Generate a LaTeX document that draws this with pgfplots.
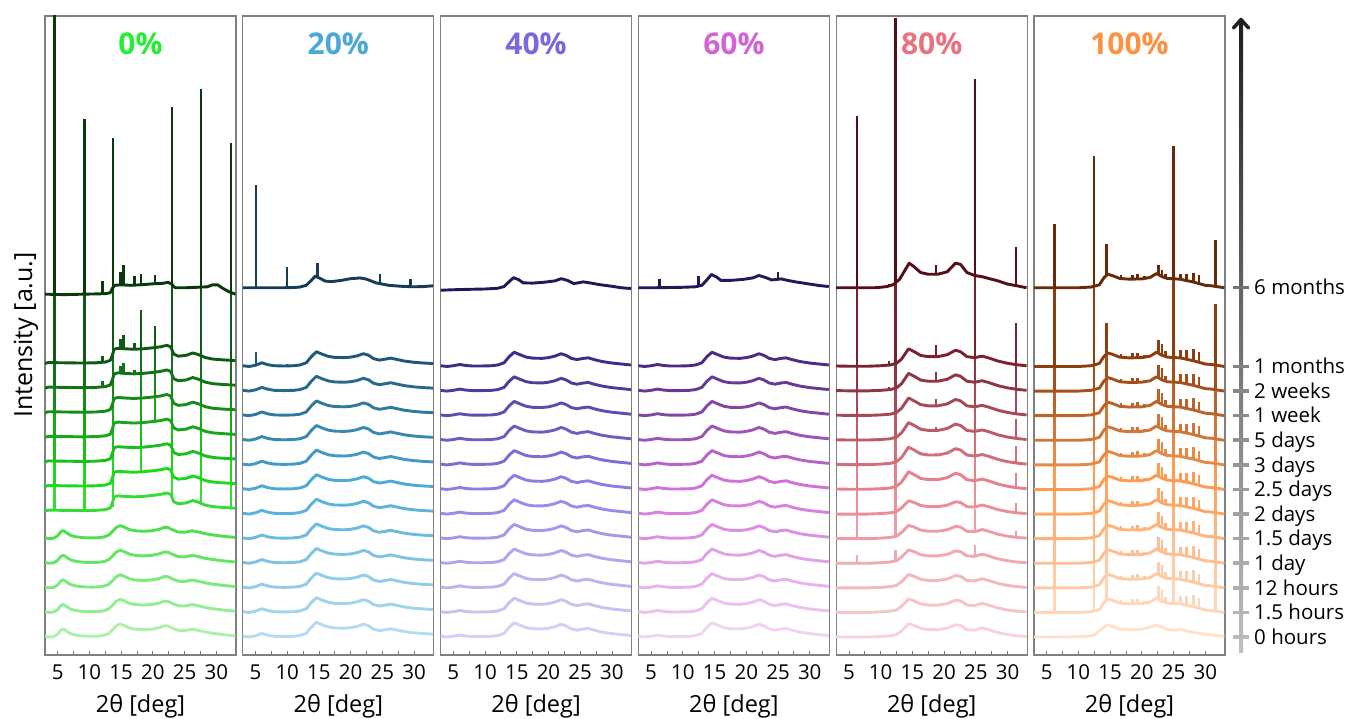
\documentclass[border=0pt]{standalone}
\usepackage{pgfplots}
\pgfplotsset{compat=1.18}
\usepackage{pgfplotstable}
\usepackage{fontspec}
\setmainfont{Open Sans}

\definecolor{L1}{HTML}{AAF2AA}\definecolor{M1}{HTML}{1ED81E}\definecolor{D1}{HTML}{0E5A14}\definecolor{E1}{HTML}{0A3A0C}
\definecolor{L2}{HTML}{B4DCF0}\definecolor{M2}{HTML}{4AAAD8}\definecolor{D2}{HTML}{1E5878}\definecolor{E2}{HTML}{183C56}
\definecolor{L3}{HTML}{D6CEF5}\definecolor{M3}{HTML}{8E7CE6}\definecolor{D3}{HTML}{3E2C8A}\definecolor{E3}{HTML}{261656}
\definecolor{L4}{HTML}{F2D2F4}\definecolor{M4}{HTML}{D070D8}\definecolor{D4}{HTML}{4E2A86}\definecolor{E4}{HTML}{24185A}
\definecolor{L5}{HTML}{F8D2D6}\definecolor{M5}{HTML}{E8808C}\definecolor{D5}{HTML}{7A2232}\definecolor{E5}{HTML}{560E18}
\definecolor{L6}{HTML}{FFE2CE}\definecolor{M6}{HTML}{FF9A50}\definecolor{D6}{HTML}{8E3E0E}\definecolor{E6}{HTML}{6A2A08}
\definecolor{T1}{HTML}{22EE33}\definecolor{T2}{HTML}{4AA8D8}\definecolor{T3}{HTML}{7B68E0}
\definecolor{T4}{HTML}{D462D6}\definecolor{T5}{HTML}{E8727F}\definecolor{T6}{HTML}{FF9040}

\newcommand\grad[1]{%
 \colorlet{P#1-0}{L#1}\colorlet{P#1-1}{M#1!17!L#1}\colorlet{P#1-2}{M#1!33!L#1}%
 \colorlet{P#1-3}{M#1!50!L#1}\colorlet{P#1-4}{M#1!67!L#1}\colorlet{P#1-5}{M#1!83!L#1}%
 \colorlet{P#1-6}{M#1}\colorlet{P#1-7}{D#1!20!M#1}\colorlet{P#1-8}{D#1!40!M#1}%
 \colorlet{P#1-9}{D#1!60!M#1}\colorlet{P#1-10}{D#1!80!M#1}\colorlet{P#1-11}{D#1}%
 \colorlet{P#1-12}{E#1}}
\grad1\grad2\grad3\grad4\grad5\grad6

% ---------- panel 1 (0%) ----------
\pgfplotstableread{
x y
3 0.04
3.6 0.0
4.4 0.02
5.0 0.12
5.5 0.28
5.9 0.33
6.4 0.24
7.0 0.14
7.8 0.08
9 0.04
10.5 0.03
11.5 0.04
12.3 0.07
13.0 0.14
13.6 0.28
14.2 0.45
14.8 0.53
15.5 0.47
16.3 0.37
17.2 0.32
18.5 0.30
19.8 0.32
21 0.38
21.8 0.46
22.4 0.45
23.1 0.36
24 0.27
25 0.26
26.2 0.32
27.2 0.27
28.3 0.20
29.5 0.15
31 0.10
33 0.05
}\pIa
\pgfplotstableread{
x y
3 0.12
3.5 0.16
6 0.15
9 0.14
11 0.15
12.5 0.18
13.3 0.25
13.6 0.45
13.9 0.70
14.5 0.74
15.5 0.72
17 0.70
18.5 0.72
20 0.76
21.2 0.80
22.2 0.86
22.8 0.80
23.3 0.50
24 0.42
25.2 0.45
26.3 0.55
27.2 0.48
28.3 0.36
29.5 0.30
31 0.27
33 0.24
}\pIb
\pgfplotstableread{
x y
3 -0.26
6 -0.28
9 -0.26
11 -0.25
12.5 -0.24
13.3 -0.20
13.6 -0.03
14.0 0.10
15 0.12
16.5 0.10
18 0.12
20 0.16
21.5 0.18
22.4 0.22
23.0 0.14
23.5 0.00
25 0.00
27 0.02
28.6 0.04
29.4 0.12
30.2 0.12
31 -0.02
32 -0.16
33 -0.26
}\pIc
\pgfplotstableread{
x bB bC t5 t6 t7 t8 t9 t10 t11 t12
4.5 0.12 -0.31 7 7 7 7 7 7 7 12
9.2 0.11 -0.29 6 6 6 6 6 6 6 7.15
12.1 0.14 -0.27 0 0 0 0 0 0.25 0.3 0.55
13.7 0.30 -0.10 6 6 6 6 6 6 6 6.2
14.9 0.70 0.08 0 0 0 0 0 0.3 0.4 0.58
15.4 0.69 0.07 0 0 0 0 0 0.45 0.6 0.84
17.1 0.67 0.06 0 0 0 0 0 0.2 0.3 0.4
18.1 0.68 0.08 0 1.5 2.0 2.4 2.4 2.4 1.6 0.48
20.3 0.74 0.12 0 0 0 1.5 1.7 1.9 0.9 0.38
23.0 0.62 0.06 6 6 6 6 6 6 6 7.3
27.6 0.41 -0.02 6 6 6 6 6 6 6 8.1
32.3 0.22 -0.22 6 6 6 6 6 6 6 6.1
}\sI

% ---------- panel 2 (20%) ----------
\pgfplotstableread{
x y
3 0.03
4 0.0
5 0.05
6 0.15
7 0.07
8 0.03
9.5 0.02
11 0.03
12 0.06
13 0.15
13.8 0.40
14.6 0.60
15.5 0.50
16.5 0.41
17.5 0.37
19 0.36
20 0.38
21 0.43
22 0.52
22.8 0.46
23.6 0.32
24.5 0.26
25.5 0.30
26.3 0.34
27.2 0.29
28.5 0.22
30 0.17
31.5 0.14
33 0.12
}\pIIa
\pgfplotstableread{
x y
3 0.0
6 0.0
9 0.0
11 0.01
12 0.03
13 0.10
13.8 0.30
14.4 0.47
15.2 0.38
16 0.27
17 0.25
18.5 0.30
20 0.37
21.5 0.40
22.5 0.35
24 0.20
26 0.10
28 0.06
30 0.04
31.5 0.05
33 0.08
}\pIIc
\pgfplotstableread{
x bA bC t11 t12
5.1 0.04 -0.02 0.55 4.2
10.0 0.0 -0.02 0.12 0.85
14.8 0.53 0.40 0 0.62
24.6 0.24 0.13 0 0.42
29.4 0.16 0.03 0 0.32
}\sII

% ---------- panel 3 (40%) and 4 (60%) ----------
\pgfplotstableread{
x y
3 0.03
4 0.0
5 0.03
6 0.08
7 0.04
8 0.02
9.5 0.02
11 0.03
12 0.06
13 0.15
13.8 0.40
14.6 0.58
15.5 0.48
16.5 0.38
17.5 0.34
19 0.33
20 0.36
21 0.42
22 0.52
22.8 0.45
23.6 0.33
24.5 0.28
25.5 0.33
26.3 0.35
27.2 0.28
28.5 0.20
30 0.14
31.5 0.10
33 0.06
}\pIIIa
\pgfplotstableread{
x y
3 -0.10
5 -0.08
8 -0.06
10 -0.05
12 -0.02
13 0.05
13.8 0.25
14.5 0.41
15.3 0.33
16 0.20
17.5 0.19
19.5 0.23
21 0.28
22 0.37
23 0.30
24 0.17
25.5 0.24
26.5 0.20
28 0.13
30 0.06
31.5 0.0
33 -0.03
}\pIIIc
\pgfplotstableread{
x y
3 0.0
5 0.0
8 0.01
10 0.02
12 0.04
13 0.10
13.8 0.32
14.5 0.54
15.3 0.44
16 0.30
17.5 0.30
19.5 0.34
21 0.40
22 0.50
23 0.42
24 0.32
25.5 0.36
26.5 0.30
28 0.23
30 0.15
31.5 0.09
33 0.05
}\pIVc
\pgfplotstableread{
x bC t12
6.3 -0.02 0.38
12.5 0.02 0.47
25.0 0.32 0.31
}\sIV

% ---------- panel 5 (80%) ----------
\pgfplotstableread{
x y
3 0.0
5 0.0
8 0.0
10 0.02
11.5 0.05
12.5 0.10
13.3 0.25
14.4 0.54
15.3 0.47
16.3 0.35
17.5 0.30
19 0.30
20.5 0.36
21.8 0.50
22.6 0.47
23.6 0.30
24.8 0.28
26 0.37
27 0.30
28.5 0.18
30 0.10
31.5 0.05
33 0.02
}\pVa
\pgfplotstableread{
x y
3 0.02
5 0.01
8 0.01
10 0.03
11.5 0.06
12.5 0.13
13.3 0.30
14.4 0.72
15.3 0.60
16.3 0.45
17.5 0.40
19 0.40
20.5 0.48
21.8 0.66
22.6 0.60
23.6 0.40
24.8 0.36
26 0.42
27 0.35
28.5 0.22
30 0.13
31.5 0.07
33 0.03
}\pVb
\pgfplotstableread{
x y
3 0.0
6 0.0
9 0.0
10 0.02
11 0.05
12 0.13
13 0.35
14.5 1.00
15.3 0.85
16.3 0.62
17.5 0.55
19 0.55
20.5 0.65
21.8 1.00
22.6 0.95
23.6 0.62
24.8 0.50
26 0.45
27 0.38
28.5 0.28
30 0.15
31.5 0.08
33 0.0
}\pVc
\pgfplotstableread{
x bA bB bC t3 t4 t5 t6 t7 t8 t9 t10 t11 t12
6.3 -0.02 -0.01 -0.02 0.37 5 5 5 5 5 5 5 5 7.0
11.3 0.02 0.03 0.05 0 0 0 0 0 0 0 0.15 0.2 0.1
12.35 0.07 0.10 0.18 0.45 6 6 6 6 6 6 6 6 10.8
18.7 0.28 0.38 0.52 0 0 0 0 0.1 0.15 0.3 0.4 0.5 0.4
24.9 0.26 0.34 0.47 0.5 0.95 6 6 6 6 6 6 6 8.0
31.3 0.03 0.06 0.06 0 0.3 0.4 0.6 0.72 0.8 1.0 1.4 1.7 1.6
}\sV

% ---------- panel 6 (100%) ----------
\pgfplotstableread{
x y
3 0.0
8 0.0
11 0.02
12.5 0.08
13.3 0.25
14.5 0.50
15.5 0.42
16.5 0.32
18 0.30
20 0.32
21.5 0.42
22.2 0.48
23 0.42
24 0.30
25 0.28
26.2 0.30
27.5 0.22
29 0.15
31 0.08
33 0.03
}\pVIa
\pgfplotstableread{
x y
3 0.0
8 0.0
10 0.0
12 0.03
13.3 0.12
14.0 0.40
14.6 0.55
15.3 0.50
16.5 0.38
18 0.35
20 0.36
21.3 0.42
22.3 0.58
23.2 0.45
24 0.38
26 0.35
28 0.24
30 0.10
31 0.08
33 0.0
}\pVIb
\pgfplotstableread{
x bB t1 t2 t3 t4 t5 t6 t7 t8 t9 t10 t11 t12
6.2 -0.02 4 4 4 4 4 4 4 4 4 4 4 2.6
12.45 0.02 6 6 6 6 6 6 6 6 6 6 6 5.35
14.4 0.48 1.0 1.0 1.0 1.0 1.0 1.0 1.0 1.0 1.0 1.0 1.3 1.3
16.7 0.35 0.15 0.15 0.15 0.15 0.15 0.15 0.15 0.15 0.15 0.15 0.15 0.15
18.5 0.33 0.2 0.2 0.2 0.2 0.2 0.2 0.2 0.2 0.2 0.2 0.2 0.2
19.3 0.33 0.22 0.22 0.22 0.22 0.22 0.22 0.22 0.22 0.22 0.22 0.22 0.22
20.4 0.35 0.12 0.12 0.12 0.12 0.12 0.12 0.12 0.12 0.12 0.12 0.12 0.12
22.6 0.52 0.55 0.55 0.55 0.55 0.55 0.55 0.55 0.55 0.55 0.55 0.55 0.4
23.2 0.43 0.5 0.5 0.5 0.5 0.5 0.5 0.5 0.5 0.5 0.5 0.5 0.28
23.7 0.38 0.25 0.25 0.25 0.25 0.25 0.25 0.25 0.25 0.25 0.25 0.25 0.2
25.0 0.35 6 6 6 6 6 6 6 6 6 6 6 5.4
26.1 0.33 0.35 0.35 0.35 0.35 0.35 0.35 0.35 0.35 0.35 0.35 0.35 0.25
27.0 0.28 0.4 0.4 0.4 0.4 0.4 0.4 0.4 0.4 0.4 0.4 0.4 0.3
28.1 0.21 0.5 0.5 0.5 0.5 0.5 0.5 0.5 0.5 0.5 0.5 0.5 0.4
29.0 0.15 0.42 0.42 0.42 0.42 0.42 0.42 0.42 0.42 0.42 0.42 0.42 0.35
31.6 0.05 2.5 2.5 2.5 2.5 2.5 2.5 2.5 2.5 2.5 2.5 2.5 1.9
}\sVI

\newcommand\tr[3]{\addplot[color=#1, line width=2.9pt, line join=round, forget plot] table[x=x, y expr=\thisrow{y}+#3]{#2};}
\newcommand\spk[5]{\addplot[draw=none, mark=none, forget plot, error bars/.cd, y dir=plus, y explicit, error mark=none, error bar style={draw=#1, solid, line width=2.5pt}] table[x=x, y expr=\thisrow{#3}+#4, y error=#5]{#2};}
\newcommand\ttl[2]{\node[font=\bfseries\fontsize{30}{30}\selectfont, text=#1, anchor=base, inner sep=0pt] at (rel axis cs:0.5,0.939) {#2};}

\pgfplotsset{panel/.style={
 scale only axis, width=191pt, height=639pt, anchor=south west,
 xmin=3, xmax=33.1, ymin=-0.73, ymax=25.25,
 xtick={5,10,...,30}, minor x tick num=1, ytick=\empty,
 tick pos=left, tick align=inside,
 major tick length=4pt, minor tick length=4pt,
 tick style={black!55, line width=0.8pt},
 axis line style={black!50, line width=1.1pt},
 ticklabel style={font=\fontsize{20.5}{22}\selectfont},
 /pgf/number format/assume math mode=true,
 xticklabel style={anchor=base, yshift=-24.8pt},
 xlabel={2θ [deg]},
 xlabel style={font=\fontsize{23.5}{24}\selectfont, at={(axis description cs:0.5,0)}, anchor=base, yshift=-58pt},
}}

\begin{document}
\begin{tikzpicture}
\path[use as bounding box] (0pt,0pt) rectangle (1349pt,719pt);

% panel 1
\begin{axis}[panel, at={(45pt,64pt)}]
\tr{P1-0}{\pIa}{0}
\tr{P1-1}{\pIa}{1}
\tr{P1-2}{\pIa}{2}
\tr{P1-3}{\pIa}{3}
\tr{P1-4}{\pIa}{4}
\tr{P1-5}{\pIb}{5}\spk{P1-5}{\sI}{bB}{5}{t5}
\tr{P1-6}{\pIb}{6}\spk{P1-6}{\sI}{bB}{6}{t6}
\tr{P1-7}{\pIb}{7}\spk{P1-7}{\sI}{bB}{7}{t7}
\tr{P1-8}{\pIb}{8}\spk{P1-8}{\sI}{bB}{8}{t8}
\tr{P1-9}{\pIb}{9}\spk{P1-9}{\sI}{bB}{9}{t9}
\tr{P1-10}{\pIb}{10}\spk{P1-10}{\sI}{bB}{10}{t10}
\tr{P1-11}{\pIb}{11}\spk{P1-11}{\sI}{bB}{11}{t11}
\tr{P1-12}{\pIc}{14.2}\spk{P1-12}{\sI}{bC}{14.2}{t12}
\ttl{T1}{0\%}
\end{axis}

% panel 2
\begin{axis}[panel, at={(242.8pt,64pt)}]
\tr{P2-0}{\pIIa}{0}
\tr{P2-1}{\pIIa}{1}
\tr{P2-2}{\pIIa}{2}
\tr{P2-3}{\pIIa}{3}
\tr{P2-4}{\pIIa}{4}
\tr{P2-5}{\pIIa}{5}
\tr{P2-6}{\pIIa}{6}
\tr{P2-7}{\pIIa}{7}
\tr{P2-8}{\pIIa}{8}
\tr{P2-9}{\pIIa}{9}
\tr{P2-10}{\pIIa}{10}
\tr{P2-11}{\pIIa}{11}\spk{P2-11}{\sII}{bA}{11}{t11}
\tr{P2-12}{\pIIc}{14.2}\spk{P2-12}{\sII}{bC}{14.2}{t12}
\ttl{T2}{20\%}
\end{axis}

% panel 3
\begin{axis}[panel, at={(440.6pt,64pt)}]
\tr{P3-0}{\pIIIa}{0}
\tr{P3-1}{\pIIIa}{1}
\tr{P3-2}{\pIIIa}{2}
\tr{P3-3}{\pIIIa}{3}
\tr{P3-4}{\pIIIa}{4}
\tr{P3-5}{\pIIIa}{5}
\tr{P3-6}{\pIIIa}{6}
\tr{P3-7}{\pIIIa}{7}
\tr{P3-8}{\pIIIa}{8}
\tr{P3-9}{\pIIIa}{9}
\tr{P3-10}{\pIIIa}{10}
\tr{P3-11}{\pIIIa}{11}
\tr{P3-12}{\pIIIc}{14.2}
\ttl{T3}{40\%}
\end{axis}

% panel 4
\begin{axis}[panel, at={(638.4pt,64pt)}]
\tr{P4-0}{\pIIIa}{0}
\tr{P4-1}{\pIIIa}{1}
\tr{P4-2}{\pIIIa}{2}
\tr{P4-3}{\pIIIa}{3}
\tr{P4-4}{\pIIIa}{4}
\tr{P4-5}{\pIIIa}{5}
\tr{P4-6}{\pIIIa}{6}
\tr{P4-7}{\pIIIa}{7}
\tr{P4-8}{\pIIIa}{8}
\tr{P4-9}{\pIIIa}{9}
\tr{P4-10}{\pIIIa}{10}
\tr{P4-11}{\pIIIa}{11}
\tr{P4-12}{\pIVc}{14.2}\spk{P4-12}{\sIV}{bC}{14.2}{t12}
\ttl{T4}{60\%}
\end{axis}

% panel 5
\begin{axis}[panel, at={(836.2pt,64pt)}]
\tr{P5-0}{\pVa}{0}
\tr{P5-1}{\pVa}{1}
\tr{P5-2}{\pVa}{2}
\tr{P5-3}{\pVa}{3}\spk{P5-3}{\sV}{bA}{3}{t3}
\tr{P5-4}{\pVa}{4}\spk{P5-4}{\sV}{bA}{4}{t4}
\tr{P5-5}{\pVa}{5}\spk{P5-5}{\sV}{bA}{5}{t5}
\tr{P5-6}{\pVb}{6}\spk{P5-6}{\sV}{bB}{6}{t6}
\tr{P5-7}{\pVb}{7}\spk{P5-7}{\sV}{bB}{7}{t7}
\tr{P5-8}{\pVb}{8}\spk{P5-8}{\sV}{bB}{8}{t8}
\tr{P5-9}{\pVb}{9}\spk{P5-9}{\sV}{bB}{9}{t9}
\tr{P5-10}{\pVb}{10}\spk{P5-10}{\sV}{bB}{10}{t10}
\tr{P5-11}{\pVb}{11}\spk{P5-11}{\sV}{bB}{11}{t11}
\tr{P5-12}{\pVc}{14.2}\spk{P5-12}{\sV}{bC}{14.2}{t12}
\ttl{T5}{80\%}
\end{axis}

% panel 6
\begin{axis}[panel, at={(1034pt,64pt)}]
\tr{P6-0}{\pVIa}{0}
\tr{P6-1}{\pVIb}{1}\spk{P6-1}{\sVI}{bB}{1}{t1}
\tr{P6-2}{\pVIb}{2}\spk{P6-2}{\sVI}{bB}{2}{t2}
\tr{P6-3}{\pVIb}{3}\spk{P6-3}{\sVI}{bB}{3}{t3}
\tr{P6-4}{\pVIb}{4}\spk{P6-4}{\sVI}{bB}{4}{t4}
\tr{P6-5}{\pVIb}{5}\spk{P6-5}{\sVI}{bB}{5}{t5}
\tr{P6-6}{\pVIb}{6}\spk{P6-6}{\sVI}{bB}{6}{t6}
\tr{P6-7}{\pVIb}{7}\spk{P6-7}{\sVI}{bB}{7}{t7}
\tr{P6-8}{\pVIb}{8}\spk{P6-8}{\sVI}{bB}{8}{t8}
\tr{P6-9}{\pVIb}{9}\spk{P6-9}{\sVI}{bB}{9}{t9}
\tr{P6-10}{\pVIb}{10}\spk{P6-10}{\sVI}{bB}{10}{t10}
\tr{P6-11}{\pVIb}{11}\spk{P6-11}{\sVI}{bB}{11}{t11}
\tr{P6-12}{\pVIb}{14.2}\spk{P6-12}{\sVI}{bB}{14.2}{t12}
\ttl{T6}{100\%}
\end{axis}

% y label
\node[rotate=90, font=\fontsize{25}{25}\selectfont] at (26pt,384pt) {Intensity [a.u.]};

% time arrow
\shade[bottom color=black!25, middle color=black!48, top color=black!88] (1239pt,66pt) rectangle (1243pt,697pt);
\draw[black!88, line width=3.5pt, line cap=round, line join=round] (1233.5pt,691pt) -- (1241pt,699.5pt) -- (1248.5pt,691pt);
\foreach \y/\c in {82/27,106.6/29,131.2/31,155.8/33,180.4/35,205/37,229.6/39,254.2/41,278.8/43,303.4/45,328/47,352.6/49,431.3/55}
  \draw[black!\c, line width=3.5pt] (1233pt,\y pt) -- (1249pt,\y pt);
\foreach \y/\t in {82/0 hours,106.6/1.5 hours,131.2/12 hours,155.8/1 day,180.4/1.5 days,205/2 days,229.6/2.5 days,254.2/3 days,278.8/5 days,303.4/1 week,328/2 weeks,352.6/1 months,431.3/6 months}
  \node[anchor=base west, inner sep=0pt, font=\fontsize{20.5}{21}\selectfont] at (1254pt,\y pt-7.3pt) {\t};
\end{tikzpicture}
\end{document}
